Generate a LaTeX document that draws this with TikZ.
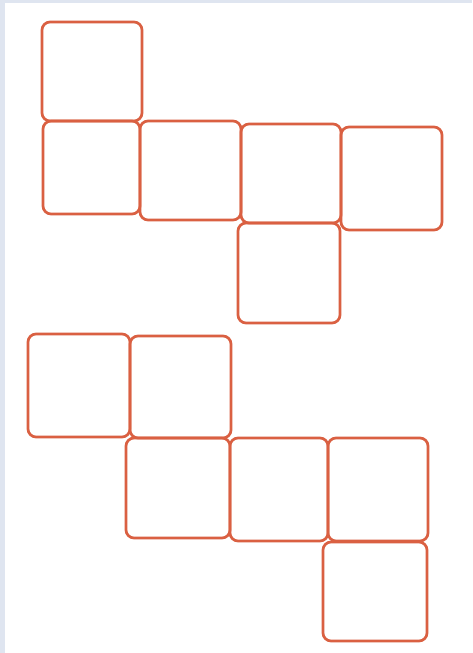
\documentclass[tikz,border=0pt]{standalone}
\definecolor{pencil}{RGB}{218,96,66}
\definecolor{edgeblue}{RGB}{223,229,240}
\begin{document}
\begin{tikzpicture}[x=1pt,y=-1pt,
  face/.style={draw=pencil,line width=2.7pt,rounded corners=8pt,line join=round}]
\useasboundingbox (0,0) rectangle (472,653);
\fill[white] (0,0) rectangle (472,653);
\fill[edgeblue] (0,0) rectangle (5,653);
\fill[edgeblue] (0,0) rectangle (472,2.5);
% top net
\draw[face] (42,22) rectangle (142,121);
\draw[face] (43,121) rectangle (140,214);
\draw[face] (140,121) rectangle (241,220);
\draw[face] (241,124) rectangle (341,223);
\draw[face] (341,127) rectangle (442,230);
\draw[face] (238,223) rectangle (340,323);
% bottom net
\draw[face] (28,334) rectangle (130,437);
\draw[face] (130,336) rectangle (231,438);
\draw[face] (126,438) rectangle (230,538);
\draw[face] (230,438) rectangle (328,541);
\draw[face] (328,438) rectangle (428,541);
\draw[face] (323,542) rectangle (427,641);
\end{tikzpicture}
\end{document}
